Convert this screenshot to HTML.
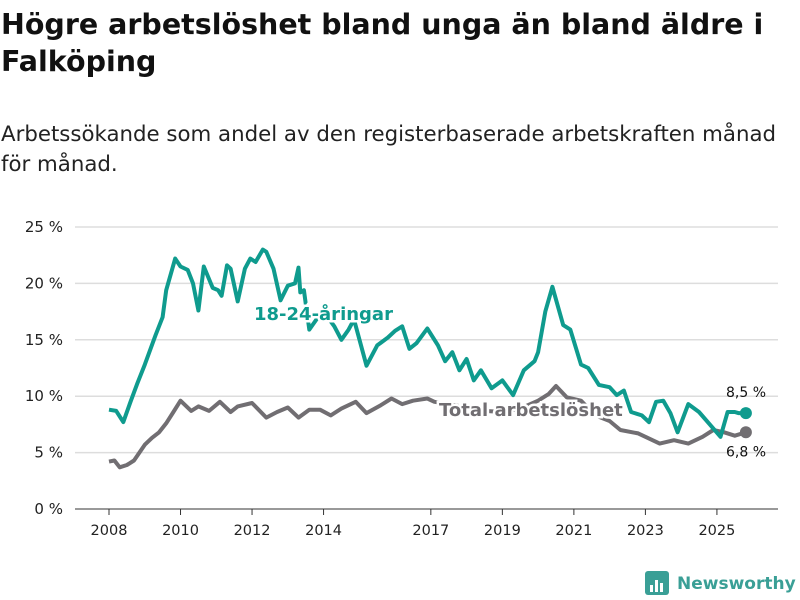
<!DOCTYPE html>
<html><head><meta charset="utf-8">
<style>
body{margin:0;background:#fff;font-family:"DejaVu Sans","Liberation Sans",sans-serif;}
#wrap{position:relative;width:800px;height:600px;overflow:hidden;}
h1{position:absolute;left:1px;top:6px;margin:0;font-size:28.5px;line-height:37px;font-weight:bold;color:#111;width:798px;}
p{position:absolute;left:1px;top:120px;margin:0;font-size:21.3px;line-height:30px;color:#222;width:798px;}
</style></head><body>
<div id="wrap">
<h1>Högre arbetslöshet bland unga än bland äldre i Falköping</h1>
<p>Arbetssökande som andel av den registerbaserade arbetskraften månad för månad.</p>
<svg id="chart" width="800" height="600" style="position:absolute;left:0;top:0"></svg>
</div>
<script>
const yTicks=[0,5,10,15,20,25];
const xTickYears=[2008,2010,2012,2014,2017,2019,2021,2023,2025];
const youngDates=[2008,2008.2,2008.4,2008.6,2008.8,2009,2009.3,2009.5,2009.6,2009.85,2010,2010.2,2010.35,2010.5,2010.65,2010.9,2011.05,2011.15,2011.3,2011.4,2011.6,2011.8,2011.95,2012.1,2012.3,2012.4,2012.6,2012.8,2013,2013.2,2013.3,2013.35,2013.45,2013.6,2013.8,2014,2014.3,2014.5,2014.7,2014.85,2015.2,2015.5,2015.8,2016,2016.2,2016.4,2016.6,2016.9,2017.2,2017.4,2017.6,2017.8,2018,2018.2,2018.4,2018.7,2019,2019.3,2019.6,2019.9,2020,2020.2,2020.4,2020.7,2020.9,2021.2,2021.4,2021.7,2022,2022.2,2022.4,2022.6,2022.9,2023.1,2023.3,2023.5,2023.7,2023.9,2024.2,2024.5,2024.8,2025.1,2025.3,2025.5,2025.6,2025.81];
const youngValues=[8.8,8.7,7.7,9.5,11.2,12.8,15.4,17.0,19.4,22.2,21.5,21.2,20.0,17.6,21.5,19.6,19.4,18.9,21.6,21.3,18.4,21.3,22.2,21.9,23.0,22.8,21.3,18.5,19.8,20.0,21.4,19.2,19.4,15.9,16.8,17.5,16.2,15.0,15.9,16.8,12.7,14.5,15.2,15.8,16.2,14.2,14.7,16.0,14.5,13.1,13.9,12.3,13.3,11.4,12.3,10.7,11.4,10.1,12.3,13.1,13.9,17.5,19.7,16.3,15.9,12.8,12.5,11.0,10.8,10.1,10.5,8.6,8.3,7.7,9.5,9.6,8.5,6.8,9.3,8.6,7.5,6.4,8.6,8.6,8.5,8.5];
const totalDates=[2008,2008.15,2008.3,2008.5,2008.7,2009,2009.2,2009.4,2009.6,2009.8,2010,2010.3,2010.5,2010.8,2011.1,2011.4,2011.6,2012,2012.4,2012.7,2013,2013.3,2013.6,2013.9,2014.2,2014.5,2014.9,2015.2,2015.6,2015.9,2016.2,2016.5,2016.9,2017.1,2017.5,2018,2018.5,2019,2019.5,2020,2020.3,2020.5,2020.8,2021.2,2021.6,2022,2022.3,2022.8,2023,2023.4,2023.8,2024.2,2024.6,2024.9,2025.2,2025.5,2025.81];
const totalValues=[4.2,4.3,3.7,3.9,4.3,5.7,6.3,6.8,7.6,8.6,9.6,8.7,9.1,8.7,9.5,8.6,9.1,9.4,8.1,8.6,9.0,8.1,8.8,8.8,8.3,8.9,9.5,8.5,9.2,9.8,9.3,9.6,9.8,9.5,9.3,9.0,8.7,8.6,8.9,9.6,10.2,10.9,9.9,9.6,8.3,7.8,7.0,6.7,6.4,5.8,6.1,5.8,6.4,7.0,6.8,6.5,6.8];
const NS="http://www.w3.org/2000/svg";
const svg=document.getElementById('chart');
const X=y=>109+(y-2008)*35.76;
const Y=v=>509-v*11.28;
function mk(t,a){const e=document.createElementNS(NS,t);for(const k in a)e.setAttribute(k,a[k]);svg.appendChild(e);return e;}
yTicks.forEach(v=>{
 const l=mk('line',{x1:75,x2:778,y1:Y(v),y2:Y(v),stroke:v===0?'#333':'#ddd','stroke-width':v===0?1:1.5});
 
 
 const t=mk('text',{x:63,y:Y(v)+5,'text-anchor':'end','font-size':15,fill:'#222'});
 t.textContent=v+' %';
 
 
});
xTickYears.forEach(yr=>{
 const l=mk('line',{x1:X(yr),x2:X(yr),y1:509,y2:515,stroke:'#333'});
 
 
 const t=mk('text',{x:X(yr),y:535,'text-anchor':'middle','font-size':14.5,fill:'#222'});
 t.textContent=yr;
 
 
});
function pathOf(d,v){return d.map((x,i)=>(i?'L':'M')+X(x).toFixed(1)+','+Y(v[i]).toFixed(1)).join('');}
const pt=mk('path',{d:pathOf(totalDates,totalValues),fill:'none',stroke:'#716e72','stroke-width':4,'stroke-linejoin':'round'});


const py=mk('path',{d:pathOf(youngDates,youngValues),fill:'none',stroke:'#0f9b8e','stroke-width':4,'stroke-linejoin':'round'});


function label(txt,x,y,col,name){
 const t=mk('text',{x:x,y:y,'font-size':18,'font-weight':'bold',fill:col,stroke:'#fff','stroke-width':5,'paint-order':'stroke'});
 t.textContent=txt;
 
 
}
label('18-24-åringar',254,320,'#0f9b8e','young-series-label');
label('Total arbetslöshet',439,416,'#716e72','total-series-label');
const ly=youngValues[youngValues.length-1], lt=totalValues[totalValues.length-1], lx=youngDates[youngDates.length-1];
const d1=mk('circle',{cx:X(lx),cy:Y(ly),r:6,fill:'#0f9b8e'});


const d2=mk('circle',{cx:X(lx),cy:Y(lt),r:6,fill:'#716e72'});


const e1=mk('text',{x:746,y:Y(ly)-16,'text-anchor':'middle','font-size':14,fill:'#111'});
e1.textContent=String(ly).replace('.',',')+' %';


const e2=mk('text',{x:746,y:Y(lt)+24,'text-anchor':'middle','font-size':14,fill:'#111'});
e2.textContent=String(lt).replace('.',',')+' %';


const g=mk('g',{});


const r=document.createElementNS(NS,'rect');
[['x',645],['y',571],['width',24],['height',24],['rx',3],['fill','#3a9f96']].forEach(a=>r.setAttribute(a[0],a[1]));g.appendChild(r);
[[650,585,3,7],[655,580,3,12],[660,583,3,9]].forEach(b=>{const q=document.createElementNS(NS,'rect');q.setAttribute('x',b[0]);q.setAttribute('y',b[1]);q.setAttribute('width',b[2]);q.setAttribute('height',b[3]);q.setAttribute('fill','#fff');g.appendChild(q);});
const lt2=document.createElementNS(NS,'text');
lt2.setAttribute('x',677);lt2.setAttribute('y',589);lt2.setAttribute('font-size',17);lt2.setAttribute('font-weight','bold');lt2.setAttribute('fill','#3a9f96');
lt2.textContent='Newsworthy';g.appendChild(lt2);
</script>
</body></html>
